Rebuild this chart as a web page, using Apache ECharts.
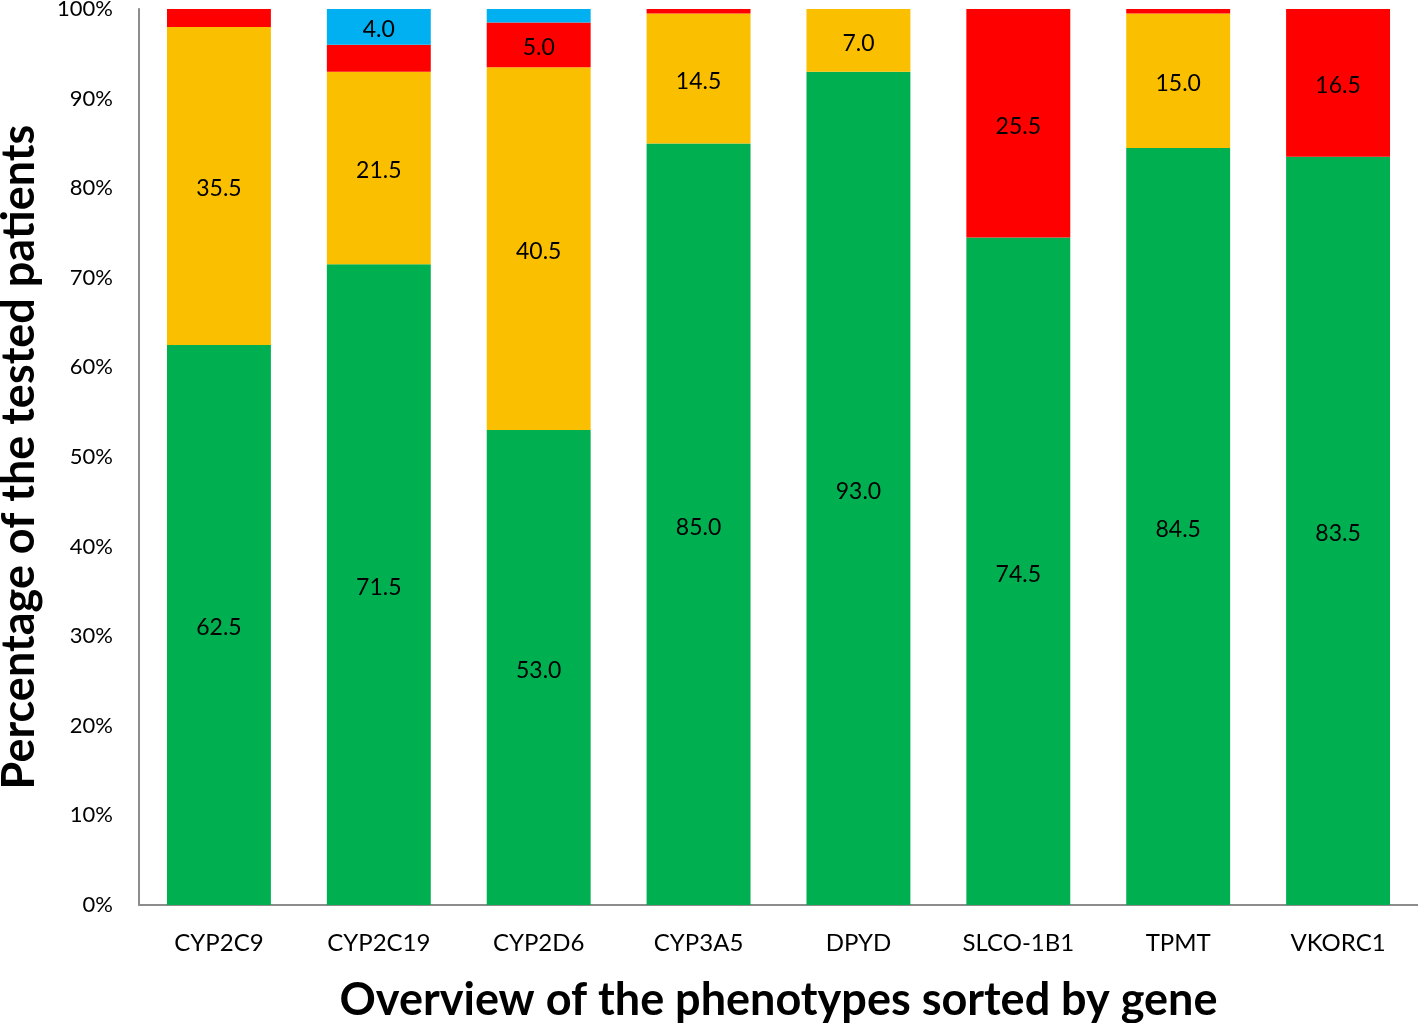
<!DOCTYPE html>
<html>
<head>
<meta charset="utf-8">
<script src="https://cdn.jsdelivr.net/npm/echarts@6/dist/echarts.min.js"></script>
<style>
html,body{margin:0;padding:0;background:#fff;}
#chart{width:1418px;height:1023px;}
</style>
</head>
<body>
<div id="chart"></div>
<script>
var genes = ['CYP2C9','CYP2C19','CYP2D6','CYP3A5','DPYD','SLCO-1B1','TPMT','VKORC1'];
var greenVals  = [62.5, 71.5, 53.0, 85.0, 93.0, 74.5, 84.5, 83.5];
var yellowVals = [35.5, 21.5, 40.5, 14.5, 7.0, 0, 15.0, 0];
var redVals    = [2.0, 3.0, 5.0, 0.5, 0, 25.5, 0.5, 16.5];
var blueVals   = [0, 4.0, 1.5, 0, 0, 0, 0, 0];
var yTicks = [0,10,20,30,40,50,60,70,80,90,100];

var FONT = 'Lato';
function mk(vals, color, name){
  return {
    name: name, type: 'bar', stack: 'all', barWidth: '65%',
    itemStyle: {color: color},
    label: {
      show: true, position: 'inside', offset: [0, 3], color: '#000', fontSize: 23, fontFamily: FONT,
      formatter: function(p){ return p.value >= 4 ? p.value.toFixed(1) : ''; }
    },
    data: vals
  };
}
var chart = echarts.init(document.getElementById('chart'));
chart.setOption({
  animation: false,
  grid: {left: 139, right: 0, top: 9, bottom: 118, containLabel: false, outerBoundsMode: 'none'},
  xAxis: {
    type: 'category', data: genes,
    axisLine: {lineStyle: {color: '#8c8c8c', width: 2}},
    axisTick: {show: false},
    axisLabel: {color: '#000', fontSize: 24, fontFamily: FONT, margin: 26},
    name: 'Overview of the phenotypes sorted by gene',
    nameLocation: 'middle', nameGap: 73,
    nameTextStyle: {color: '#000', fontSize: 45, fontWeight: 'bold', fontFamily: FONT}
  },
  yAxis: {
    type: 'value', min: 0, max: 100, interval: 10,
    splitLine: {show: false},
    axisLine: {show: true, lineStyle: {color: '#8c8c8c', width: 2}},
    axisTick: {show: false},
    axisLabel: {color: '#000', fontSize: 22, fontFamily: FONT, margin: 26,
      formatter: function(v){ return yTicks.indexOf(v) >= 0 ? v + '%' : ''; }},
    name: 'Percentage of the tested patients',
    nameLocation: 'middle', nameGap: 97, nameRotate: 90,
    nameTextStyle: {color: '#000', fontSize: 45, fontWeight: 'bold', fontFamily: FONT}
  },
  series: [
    mk(greenVals, '#00B050', 'green'),
    mk(yellowVals, '#FAC000', 'yellow'),
    mk(redVals, '#FF0000', 'red'),
    mk(blueVals, '#00B0F0', 'blue')
  ]
});
</script>
</body>
</html>
